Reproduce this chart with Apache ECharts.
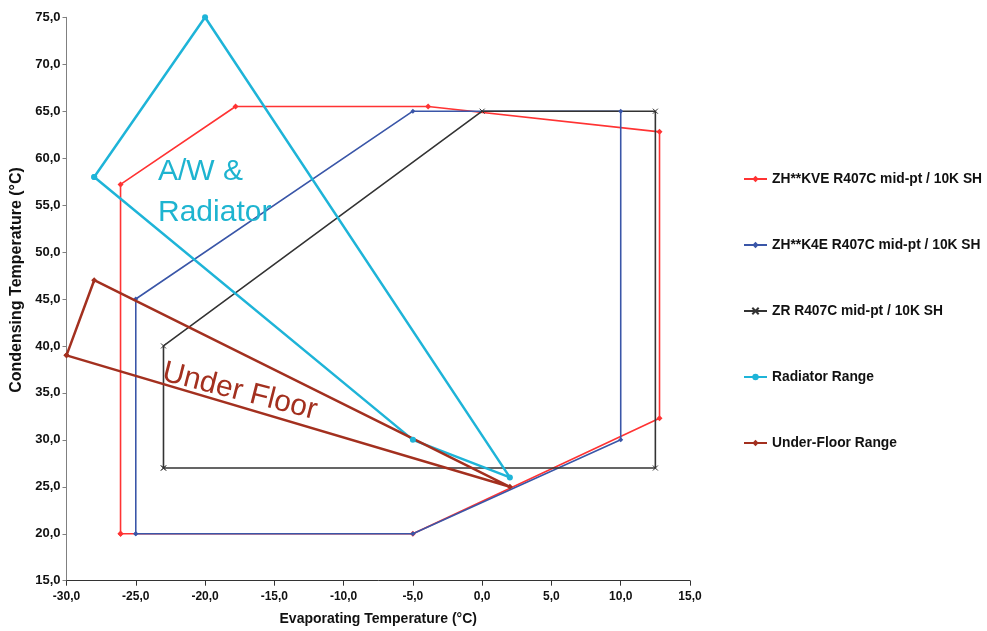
<!DOCTYPE html>
<html>
<head>
<meta charset="utf-8">
<script src="https://cdn.jsdelivr.net/npm/echarts@6/dist/echarts.min.js"></script>
<style>html,body{margin:0;padding:0;background:#fff;}#c{width:987px;height:631px;}</style>
</head>
<body>
<div id="c"></div>
<script>
const seriesNames = ['ZH**KVE R407C mid-pt / 10K SH','ZH**K4E R407C mid-pt / 10K SH','ZR R407C mid-pt / 10K SH','Radiator Range','Under-Floor Range'];
const kveX = [-26.1, -26.1, -17.8, -3.9, 12.8, 12.8, -5, -26.1];
const kveY = [20, 57.2, 65.5, 65.5, 62.8, 32.3, 20, 20];
const k4eX = [-25, -25, -5, 10, 10, -5, -25];
const k4eY = [20, 45, 65, 65, 30, 20, 20];
const zrX = [-23, -23, 0, 12.5, 12.5, -23];
const zrY = [27, 40, 65, 65, 27, 27];
const radX = [-28, -20, 2, -5, -28];
const radY = [58, 75, 26, 30, 58];
const ufX = [-30, -28, 2, -30];
const ufY = [39, 47, 25, 39];
const xTicks = {min: -30, max: 15, interval: 5};
const yTicks = {min: 15, max: 75, interval: 5};

function pairs(xs, ys){ return xs.map((x,i)=>[x, ys[i]]); }
const fmt = v => v.toFixed(1).replace('.', ',');
const FONT = 'Liberation Sans, Arial, sans-serif';

const chart = echarts.init(document.getElementById('c'));
const colors = ['#FF3333','#3A56A8','#333333','#1EB4D8','#A3301F'];
chart.setOption({
  animation: false,
  backgroundColor: '#fff',
  grid: {left: 66.5, right: 297, top: 17.3, bottom: 50.3, containLabel: false},
  xAxis: {
    type: 'value', min: xTicks.min, max: xTicks.max, interval: xTicks.interval,
    name: 'Evaporating Temperature (°C)', nameLocation: 'middle', nameGap: 31,
    nameTextStyle: {fontFamily: FONT, fontWeight: 'bold', fontSize: 14, color: '#111'},
    axisLine: {onZero: false, lineStyle: {color: '#333', width: 1}},
    axisTick: {show: true, length: 5, lineStyle: {color: '#333'}},
    axisLabel: {formatter: fmt, fontFamily: FONT, fontWeight: 'bold', fontSize: 12, color: '#111', margin: 10},
    splitLine: {show: false}
  },
  yAxis: {
    type: 'value', min: yTicks.min, max: yTicks.max, interval: yTicks.interval,
    name: 'Condensing Temperature (°C)', nameLocation: 'middle', nameGap: 42,
    nameTextStyle: {fontFamily: FONT, fontWeight: 'bold', fontSize: 16, color: '#111', padding: [0,0,0,38]},
    axisLine: {show: true, onZero: false, lineStyle: {color: '#808080', width: 1}},
    axisTick: {show: true, length: 4, lineStyle: {color: '#808080'}},
    axisLabel: {formatter: fmt, fontFamily: FONT, fontWeight: 'bold', fontSize: 13, color: '#111', margin: 6},
    splitLine: {show: false}
  },
  legend: {
    orient: 'vertical', left: 743, top: 172, padding: 0, itemGap: 52, itemWidth: 23, itemHeight: 8,
    textStyle: {fontFamily: FONT, fontWeight: 'bold', fontSize: 13.8, color: '#111'},
    data: seriesNames
  },
  series: [
    {name: seriesNames[0], type: 'line', data: pairs(kveX, kveY), symbol: 'diamond', symbolSize: 6,
     lineStyle: {color: colors[0], width: 1.6}, itemStyle: {color: colors[0]}, z: 3},
    {name: seriesNames[1], type: 'line', data: pairs(k4eX, k4eY), symbol: 'diamond', symbolSize: 5,
     lineStyle: {color: colors[1], width: 1.6}, itemStyle: {color: colors[1]}, z: 4},
    {name: seriesNames[2], type: 'line', data: pairs(zrX, zrY), symbol: 'path://M0,0L10,10M10,0L0,10', symbolSize: 5,
     lineStyle: {color: colors[2], width: 1.6}, itemStyle: {color: colors[2], borderColor: colors[2], borderWidth: 1}, z: 4},
    {name: seriesNames[3], type: 'line', data: pairs(radX, radY), symbol: 'circle', symbolSize: 6,
     lineStyle: {color: colors[3], width: 2.5}, itemStyle: {color: colors[3]}, z: 5},
    {name: seriesNames[4], type: 'line', data: pairs(ufX, ufY), symbol: 'diamond', symbolSize: 6,
     lineStyle: {color: colors[4], width: 2.5}, itemStyle: {color: colors[4]}, z: 5}
  ],
  graphic: [
    {type: 'text', x: 158, y: 151, z: 10,
     style: {text: 'A/W &\nRadiator', fontFamily: FONT, fontSize: 30, lineHeight: 41, fill: '#1EB4D0', align: 'left', verticalAlign: 'top'}},
    {type: 'text', x: 163, y: 372, rotation: -0.25, z: 10,
     style: {text: 'Under Floor', fontFamily: FONT, fontSize: 30, fill: '#A3301F', align: 'left', verticalAlign: 'middle'}}
  ]
});
</script>
</body>
</html>
